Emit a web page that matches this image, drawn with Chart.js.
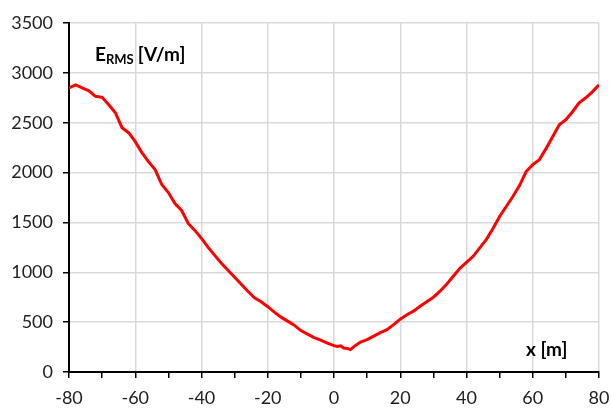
<!DOCTYPE html>
<html>
<head>
<meta charset="utf-8">
<script src="https://cdn.jsdelivr.net/npm/chart.js@4"></script>
<style>
  html, body { margin: 0; padding: 0; background: #fff; }
  #wrap { width: 611px; height: 408px; }
</style>
</head>
<body>
<div id="wrap"><canvas id="chart" width="611" height="408"></canvas></div>
<script>
// ── Dados ─────────────────────────────────────────────────────
const POS_X = [
  -80, -78, -76, -74, -72, -70, -68, -66, -64, -62, -60, -58, -56, -54, -52,
  -50, -48, -46, -44, -42, -40, -38, -36, -34, -32, -30, -28, -26, -24, -22,
  -20, -18, -16, -14, -12, -10, -8, -6, -4, -2, 0, 1, 2, 3, 4, 5, 6, 8, 10,
  12, 14, 16, 18, 20, 22, 24, 26, 28, 30, 32, 34, 36, 38, 40, 42, 44, 46, 48,
  50, 52, 54, 56, 58, 60, 62, 64, 66, 68, 70, 72, 74, 76, 78, 80,
];
const E_RMS = [
  2850, 2880, 2850, 2820, 2765, 2755, 2680, 2600, 2450, 2400, 2310, 2200,
  2110, 2030, 1880, 1800, 1690, 1620, 1490, 1420, 1340, 1250, 1170, 1090,
  1020, 950, 880, 810, 745, 705, 655, 600, 550, 510, 470, 415, 380, 345, 320,
  290, 265, 255, 262, 240, 235, 225, 255, 300, 325, 360, 395, 425, 475, 530,
  575, 610, 660, 705, 750, 810, 880, 960, 1040, 1100, 1160, 1245, 1330, 1440,
  1560, 1660, 1760, 1870, 2010, 2080, 2130, 2240, 2360, 2480, 2530, 2610,
  2700, 2750, 2810, 2880,
];
const X_TICKS = [-80, -60, -40, -20, 0, 20, 40, 60, 80];
const Y_TICKS = [0, 500, 1000, 1500, 2000, 2500, 3000, 3500];

const FONT = "Lato, 'Open Sans', sans-serif";
const GRID = "#d9d9d9";

// Rótulos dos eixos desenhados dentro da área do gráfico
const axisTitles = {
  id: "axisTitles",
  afterDraw(chart) {
    const { ctx, chartArea } = chart;
    ctx.save();
    ctx.fillStyle = "#000";
    ctx.textBaseline = "alphabetic";
    // E_RMS [V/m]
    let x = chartArea.left + 26;
    const yb = 61;
    ctx.font = "bold 19px " + FONT;
    ctx.fillText("E", x, yb);
    x += ctx.measureText("E").width;
    ctx.font = "bold 13px " + FONT;
    ctx.fillText("RMS", x, yb + 3);
    x += ctx.measureText("RMS").width + 4;
    ctx.font = "bold 19px " + FONT;
    ctx.fillText("[V/m]", x, yb);
    // x [m]
    ctx.fillText("x [m]", 526, 356);
    ctx.restore();
  },
};

const ctx = document.getElementById("chart").getContext("2d");
new Chart(ctx, {
  type: "line",
  data: {
    datasets: [
      {
        data: POS_X.map((x, i) => ({ x, y: E_RMS[i] })),
        borderColor: "#ff0000",
        borderWidth: 3,
        pointRadius: 0,
        tension: 0,
        fill: false,
      },
    ],
  },
  options: {
    responsive: false,
    animation: false,
    layout: { padding: { top: 23, right: 12, left: 0, bottom: 0 } },
    plugins: { legend: { display: false }, tooltip: { enabled: false } },
    scales: {
      x: {
        type: "linear",
        min: -80,
        max: 80,
        afterBuildTicks: (s) => {
          s.ticks = [];
          for (let v = -80; v <= 80; v += 10) s.ticks.push({ value: v });
        },
        afterFit: (s) => {
          s.height = 36;
          s.paddingLeft = 0;
          s.paddingRight = 0;
        },
        grid: {
          color: (c) => (X_TICKS.includes(c.tick && c.tick.value) ? GRID : "transparent"),
          tickColor: "#000",
          tickLength: 6,
          lineWidth: 1.5,
        },
        border: { color: "#000", width: 2 },
        ticks: {
          autoSkip: false,
          maxRotation: 0,
          padding: 9,
          color: "#222",
          font: { family: FONT, size: 18 },
          callback: (v) => (X_TICKS.includes(v) ? String(v) : ""),
        },
      },
      y: {
        type: "linear",
        min: 0,
        max: 3500,
        afterBuildTicks: (s) => { s.ticks = Y_TICKS.map((v) => ({ value: v })); },
        afterFit: (s) => { s.width = 69; },
        grid: { color: GRID, tickColor: "#000", tickLength: 6, lineWidth: 1.5 },
        border: { color: "#000", width: 2 },
        ticks: {
          padding: 10,
          color: "#222",
          font: { family: FONT, size: 18 },
          callback: (v) => String(v),
        },
      },
    },
  },
  plugins: [axisTitles],
});
</script>
</body>
</html>
